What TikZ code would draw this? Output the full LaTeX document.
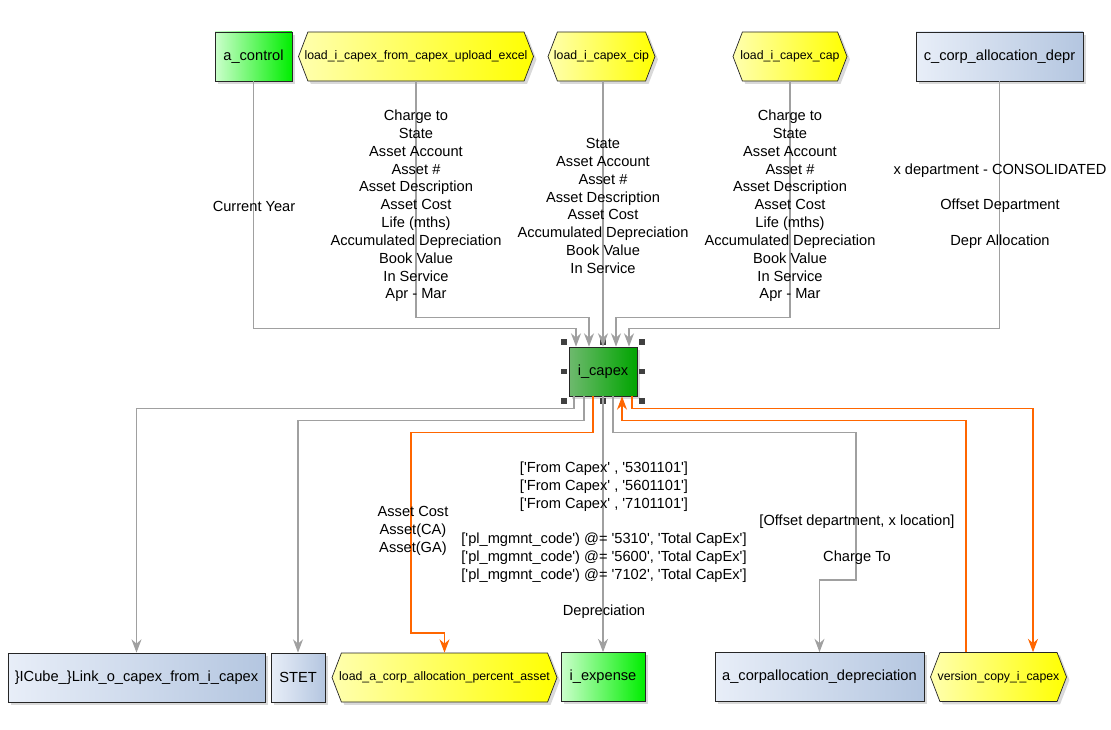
\documentclass[tikz,border=0pt]{standalone}
\usepackage{fontspec}
\setmainfont{Liberation Sans}[Ligatures=TeXOff]
\usepackage{xcolor}
\usepackage{tikz}
\usetikzlibrary{positioning,arrows.meta,fit,calc,shapes.symbols,shadows}
\definecolor{linkcolor}{RGB}{160,160,160}
\definecolor{hotcolor}{RGB}{255,102,0}
\definecolor{grnlo}{RGB}{204,255,204}
\definecolor{grnhi}{RGB}{0,238,0}
\definecolor{hublo}{RGB}{110,185,110}
\definecolor{hubhi}{RGB}{0,165,0}
\definecolor{yello}{RGB}{255,255,175}
\definecolor{yelhi}{RGB}{255,255,0}
\definecolor{blulo}{RGB}{232,238,248}
\definecolor{bluhi}{RGB}{180,198,224}
\tikzset{
  blk/.style={draw=black!85, line width=0.6pt, font=\fontsize{12.5}{15.2}\selectfont, align=center, inner sep=2pt, minimum height=1.47cm, drop shadow={shadow xshift=2.5pt, shadow yshift=-2.5pt, opacity=0.3}},
  grn/.style={blk, left color=grnlo, right color=grnhi},
  hub/.style={blk, left color=hublo, right color=hubhi},
  blu/.style={blk, left color=blulo, right color=bluhi},
  hexa/.style={blk, shape=signal, signal to=west and east, signal pointer angle=138, inner xsep=-6pt, font=\fontsize{10.5}{12}\selectfont, left color=yello, right color=yelhi},
  handle/.style={fill=black!75, minimum size=0.17cm, inner sep=0pt},
  lbl/.style={font=\fontsize{12.5}{15.2}\selectfont, align=center, inner sep=0pt},
  flow/.style={-{Stealth[length=4mm, width=3mm, inset=1.3mm]}, line width=0.9pt, draw=linkcolor},
  hot/.style={-{Stealth[length=4mm, width=3mm, inset=1.3mm]}, line width=0.9pt, draw=hotcolor},
}

\begin{document}
\begin{tikzpicture}[x=0.03cm, y=-0.03cm]
\useasboundingbox (0,0) rectangle (1111,730);
% sources
\node[grn, minimum width=2.31cm] (actl) at (253.5,56.5) {a\_control};
\node[hexa, minimum width=7.05cm] (ldexcel) at (416,56.5) {load\_i\_capex\_from\_capex\_upload\_excel};
\node[hexa, minimum width=3.21cm] (ldcip) at (601.5,56.5) {load\_i\_capex\_cip};
\node[hexa, minimum width=3.42cm] (ldcap) at (790,56.5) {load\_i\_capex\_cap};
\node[blu, minimum width=5.01cm] (ccorp) at (999.5,56.5) {c\_corp\_allocation\_depr};
% hub
\node[hub, minimum width=2.04cm] (icapex) at (603,371.5) {i\_capex};
\node[fit=(icapex), inner sep=0.135cm] (icapexsel) {};
\foreach \a/\n in {north west/1, north/2, north east/3, east/4, south east/5, south/6, south west/7, west/8}
  \node[handle] (hdl\n) at (icapexsel.\a) {};
% targets
\node[blu, minimum width=7.71cm] (icube) at (136.5,677.5) {\}ICube\_\}Link\_o\_capex\_from\_i\_capex};
\node[blu, minimum width=1.62cm] (stet) at (298,677.5) {STET};
\node[hexa, minimum width=6.75cm] (loada) at (444.5,677.5) {load\_a\_corp\_allocation\_percent\_asset};
\node[grn, minimum width=2.52cm] (iexp) at (603,677) {i\_expense};
\node[blu, minimum width=6.27cm] (acorp) at (819.5,677) {a\_corpallocation\_depreciation};
\node[hexa, minimum width=4.08cm] (vcopy) at (998.5,677) {version\_copy\_i\_capex};

% into i_capex
\draw[flow] (actl.south) |- ($(icapex.north)+(-27,-18)$) -- ($(icapex.north)+(-27,0)$);
\draw[flow] (ldexcel.south) |- ($(icapex.north)+(-14,-29)$) -- ($(icapex.north)+(-14,0)$);
\draw[flow] (ldcip.south -| icapex.north) -- (icapex.north);
\draw[flow] (ldcap.south) |- ($(icapex.north)+(13,-29)$) -- ($(icapex.north)+(13,0)$);
\draw[flow] (ccorp.south) |- ($(icapex.north)+(26,-18)$) -- ($(icapex.north)+(26,0)$);
\node[lbl] (lyear) at (254,206) {Current Year};
\node[lbl] (lexcel) at (416,206) {Charge to\\State\\Asset Account\\Asset \#\\Asset Description\\Asset Cost\\Life (mths)\\Accumulated Depreciation\\Book Value\\In Service\\Apr - Mar};
\node[lbl] (lcip) at (603,206) {State\\Asset Account\\Asset \#\\Asset Description\\Asset Cost\\Accumulated Depreciation\\Book Value\\In Service};
\node[lbl] (lcap) at (790,206) {Charge to\\State\\Asset Account\\Asset \#\\Asset Description\\Asset Cost\\Life (mths)\\Accumulated Depreciation\\Book Value\\In Service\\Apr - Mar};
\node[lbl] (lcorp) at (1000,206) {x department - CONSOLIDATED\\[15.2pt]Offset Department\\[15.2pt]Depr Allocation};

% out of i_capex
\draw[flow] ($(icapex.south)+(-29,0)$) -- ++(0,12) -| (icube.north);
\draw[flow] ($(icapex.south)+(-19,0)$) -- ++(0,24) -| (stet.north);
\draw[hot] ($(icapex.south)+(-10,0)$) -- ++(0,36) -| (411,633) -| (loada.north);
\draw[flow] (icapex.south) -- (iexp.north);
\draw[flow] ($(icapex.south)+(10,0)$) -- ++(0,36) -| (856,580) -| (acorp.north);
\draw[hot] ($(icapex.south)+(29,0)$) -- ++(0,12) -| ($(vcopy.north)+(34.5,0)$);
\draw[hot] ($(vcopy.north)+(-32.5,0)$) |- ($(icapex.south)+(19,24)$) -- ($(icapex.south)+(19,0)$);
\node[lbl] (lasset) at (413,531) {Asset Cost\\Asset(CA)\\Asset(GA)};
\node[lbl] (lexp) at (604,540) {['From Capex' , '5301101']\\{}['From Capex' , '5601101']\\{}['From Capex' , '7101101']\\[15.2pt]['pl\_mgmnt\_code') @= '5310', 'Total CapEx']\\{}['pl\_mgmnt\_code') @= '5600', 'Total CapEx']\\{}['pl\_mgmnt\_code') @= '7102', 'Total CapEx']\\[15.2pt]Depreciation};
\node[lbl] (lacorp) at (857,539.5) {[Offset department, x location]\\[15.2pt]Charge To};
\end{tikzpicture}
\end{document}
